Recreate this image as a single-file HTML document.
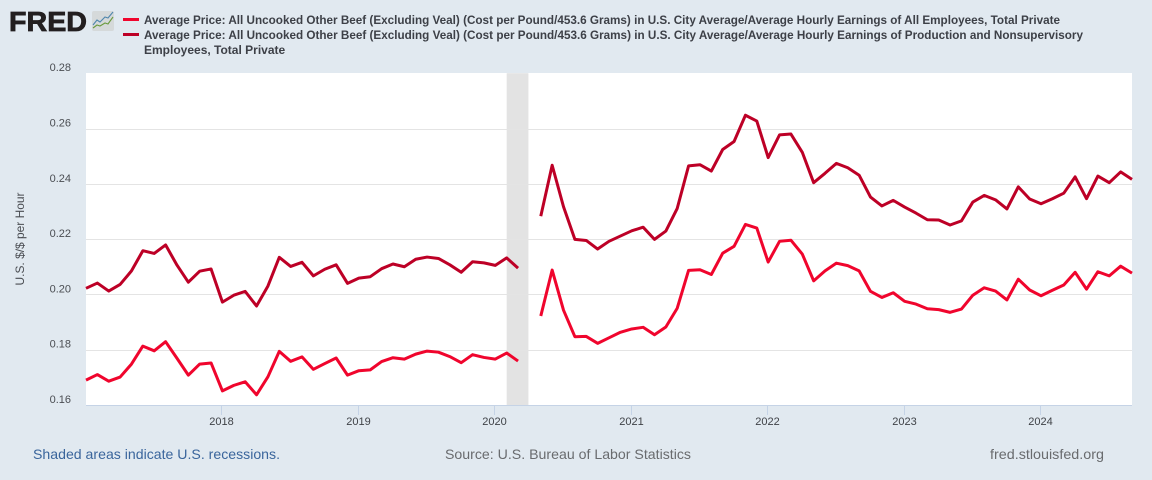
<!DOCTYPE html>
<html lang="en">
<head>
<meta charset="utf-8">
<title>FRED chart</title>
<style>
html,body{margin:0;padding:0;background:#e1e9f0;}
body{width:1152px;height:480px;overflow:hidden;font-family:"Liberation Sans",Arial,sans-serif;}
svg{display:block;}
text{font-family:"Liberation Sans",Arial,sans-serif;}
</style>
</head>
<body>
<svg id="chart" width="1152" height="480" viewBox="0 0 1152 480" xmlns="http://www.w3.org/2000/svg">
  <rect x="0" y="0" width="1152" height="480" fill="#e1e9f0"/>
  <g>
    <text x="9" y="31" font-size="28" font-weight="700" fill="#231f20" stroke="#231f20" stroke-width="0.8" textLength="78" lengthAdjust="spacingAndGlyphs">FRED</text>
    <rect x="92" y="11" width="22" height="20" rx="2" fill="#d5d9da"/>
    <path d="M93 25 L97 20 L100 22 L105 17 L108 18 L113 12" fill="none" stroke="#4f86ad" stroke-width="1.1"/>
    <path d="M93 28 L97 25 L100 26 L105 23 L108 24 L113 17" fill="none" stroke="#6a9a3e" stroke-width="1.1"/>
  </g>
  <g font-size="12" font-weight="700" fill="#3d4047">
    <g>
      <rect x="123" y="18" width="16" height="3" fill="#f0052d"/>
      <text x="144" y="24" textLength="916" lengthAdjust="spacingAndGlyphs">Average Price: All Uncooked Other Beef (Excluding Veal) (Cost per Pound/453.6 Grams) in U.S. City Average/Average Hourly Earnings of All Employees, Total Private</text>
    </g>
    <g>
      <rect x="123" y="33" width="16" height="3" fill="#bd0026"/>
      <text x="144" y="39" textLength="939" lengthAdjust="spacingAndGlyphs">Average Price: All Uncooked Other Beef (Excluding Veal) (Cost per Pound/453.6 Grams) in U.S. City Average/Average Hourly Earnings of Production and Nonsupervisory</text>
      <text x="144" y="54">Employees, Total Private</text>
    </g>
  </g>
  <rect x="86" y="73" width="1046" height="332" fill="#ffffff"/>
  <g id="recessions"></g>
  <g id="grid"></g>
  <g id="xaxis"></g>
  <g id="yaxis"></g>
  <g id="series"></g>
  <text transform="translate(24,239) rotate(-90)" text-anchor="middle" font-size="12" fill="#4a4d52" textLength="93" lengthAdjust="spacingAndGlyphs">U.S. $/$ per Hour</text>
  <text x="33" y="459" font-size="14" fill="#3a659c" textLength="247" lengthAdjust="spacingAndGlyphs">Shaded areas indicate U.S. recessions.</text>
  <text x="445" y="459" font-size="14" fill="#696b6e" textLength="246" lengthAdjust="spacingAndGlyphs">Source: U.S. Bureau of Labor Statistics</text>
  <text x="990" y="459" font-size="14" fill="#696b6e" textLength="114" lengthAdjust="spacingAndGlyphs">fred.stlouisfed.org</text>
</svg>
<script>
var months = [
'2017-01','2017-02','2017-03','2017-04','2017-05','2017-06','2017-07','2017-08','2017-09','2017-10','2017-11','2017-12',
'2018-01','2018-02','2018-03','2018-04','2018-05','2018-06','2018-07','2018-08','2018-09','2018-10','2018-11','2018-12',
'2019-01','2019-02','2019-03','2019-04','2019-05','2019-06','2019-07','2019-08','2019-09','2019-10','2019-11','2019-12',
'2020-01','2020-02','2020-03','2020-04','2020-05','2020-06','2020-07','2020-08','2020-09','2020-10','2020-11','2020-12',
'2021-01','2021-02','2021-03','2021-04','2021-05','2021-06','2021-07','2021-08','2021-09','2021-10','2021-11','2021-12',
'2022-01','2022-02','2022-03','2022-04','2022-05','2022-06','2022-07','2022-08','2022-09','2022-10','2022-11','2022-12',
'2023-01','2023-02','2023-03','2023-04','2023-05','2023-06','2023-07','2023-08','2023-09','2023-10','2023-11','2023-12',
'2024-01','2024-02','2024-03','2024-04','2024-05','2024-06','2024-07','2024-08','2024-09'];

var allEmployees = [
.1690,.1710,.1686,.1701,.1748,.1813,.1796,.1829,.1769,.1708,.1748,.1752,
.1651,.1671,.1684,.1637,.1702,.1794,.1758,.1774,.1729,.1750,.1770,.1708,
.1724,.1727,.1757,.1771,.1766,.1784,.1795,.1791,.1775,.1753,.1782,.1772,
.1766,.1788,.1759,null,.1922,.2088,.1943,.1847,.1848,.1823,.1843,.1863,
.1875,.1881,.1854,.1882,.1950,.2087,.2089,.2072,.2149,.2174,.2253,.2240,
.2117,.2192,.2196,.2146,.2049,.2085,.2113,.2104,.2085,.2011,.1989,.2006,
.1975,.1965,.1948,.1945,.1935,.1947,.1997,.2024,.2012,.1980,.2055,.2016,
.1995,.2015,.2034,.2080,.2019,.2082,.2067,.2102,.2077];

var productionEmployees = [
.2022,.2041,.2012,.2036,.2085,.2158,.2148,.2179,.2106,.2044,.2084,.2092,
.1972,.1997,.2011,.1958,.2030,.2134,.2101,.2116,.2067,.2091,.2107,.2040,
.2059,.2064,.2093,.2110,.2100,.2127,.2135,.2130,.2107,.2080,.2118,.2114,
.2105,.2132,.2095,null,.2283,.2467,.2317,.2199,.2195,.2164,.2192,.2211,
.2230,.2243,.2199,.2229,.2311,.2465,.2469,.2446,.2524,.2553,.2648,.2627,
.2495,.2577,.2580,.2514,.2404,.2438,.2474,.2458,.2431,.2352,.2320,.2340,
.2316,.2294,.2270,.2269,.2251,.2266,.2334,.2358,.2342,.2309,.2389,.2345,
.2328,.2346,.2366,.2425,.2346,.2428,.2404,.2443,.2416];

var yTickValues = [0.16,0.18,0.20,0.22,0.24,0.26,0.28];
var xTickMonths = ['2018-01','2019-01','2020-01','2021-01','2022-01','2023-01','2024-01'];
var xTickLabels = ['2018','2019','2020','2021','2022','2023','2024'];
var recessionStart = ['2020-02'];
var recessionEnd = ['2020-04'];

var NS = 'http://www.w3.org/2000/svg';
var plotLeft = 86, plotRight = 1132, plotTop = 73.2, plotBottom = 405;
var yMin = 0.16, yMax = 0.28;

function xScale(month) {
  return plotLeft + months.indexOf(month) / (months.length - 1) * (plotRight - plotLeft);
}
function yScale(value) {
  return plotBottom - (value - yMin) / (yMax - yMin) * (plotBottom - plotTop);
}
function make(tag, attrs, parent) {
  var el = document.createElementNS(NS, tag);
  for (var k in attrs) el.setAttribute(k, attrs[k]);
  parent.appendChild(el);
  return el;
}
function linePath(values) {
  var d = '', pen = false;
  for (var i = 0; i < values.length; i++) {
    if (values[i] === null) { pen = false; continue; }
    d += (pen ? 'L' : 'M') + xScale(months[i]).toFixed(2) + ' ' + yScale(values[i]).toFixed(2);
    pen = true;
  }
  return d;
}

var recG = document.getElementById('recessions');
recessionStart.forEach(function (start, i) {
  var x0 = xScale(start), x1 = xScale(recessionEnd[i]) - 1;
  var band = make('rect', {x: x0, y: plotTop, width: x1 - x0, height: plotBottom - plotTop, fill: '#e3e3e3'}, recG);
  
  
});

var gridG = document.getElementById('grid');
var yG = document.getElementById('yaxis');
yTickValues.forEach(function (v) {
  var y = yScale(v);
  if (v > yMin && v < yMax) {
    var gy = Math.round(y) + 0.5;
    var gl = make('line', {x1: plotLeft, x2: plotRight, y1: gy, y2: gy, stroke: '#e4e4e4', 'stroke-width': 1}, gridG);
    
    
  }
  var t = make('text', {x: 71, y: y - 2, 'text-anchor': 'end', 'font-size': 11, fill: '#4a4d52'}, yG);
  t.textContent = v.toFixed(2);
  
  
});

var xG = document.getElementById('xaxis');
var axisLine = make('line', {x1: plotLeft, x2: plotRight, y1: 405.5, y2: 405.5, stroke: '#c5d3e6', 'stroke-width': 1}, xG);


xTickMonths.forEach(function (m, i) {
  var x = Math.round(xScale(m)) - 0.5;
  var tick = make('line', {x1: x, x2: x, y1: 405, y2: 415, stroke: '#c5d3e6', 'stroke-width': 1}, xG);
  
  
  var t = make('text', {x: x, y: 425, 'text-anchor': 'middle', 'font-size': 11, fill: '#3f4247'}, xG);
  t.textContent = xTickLabels[i];
  
  
});

var sG = document.getElementById('series');
var lineA = make('path', {d: linePath(allEmployees), fill: 'none', stroke: '#f0052d', 'stroke-width': 3, 'stroke-linejoin': 'round', 'stroke-linecap': 'butt'}, sG);


var lineB = make('path', {d: linePath(productionEmployees), fill: 'none', stroke: '#bd0026', 'stroke-width': 3, 'stroke-linejoin': 'round', 'stroke-linecap': 'butt'}, sG);


</script>
</body>
</html>
